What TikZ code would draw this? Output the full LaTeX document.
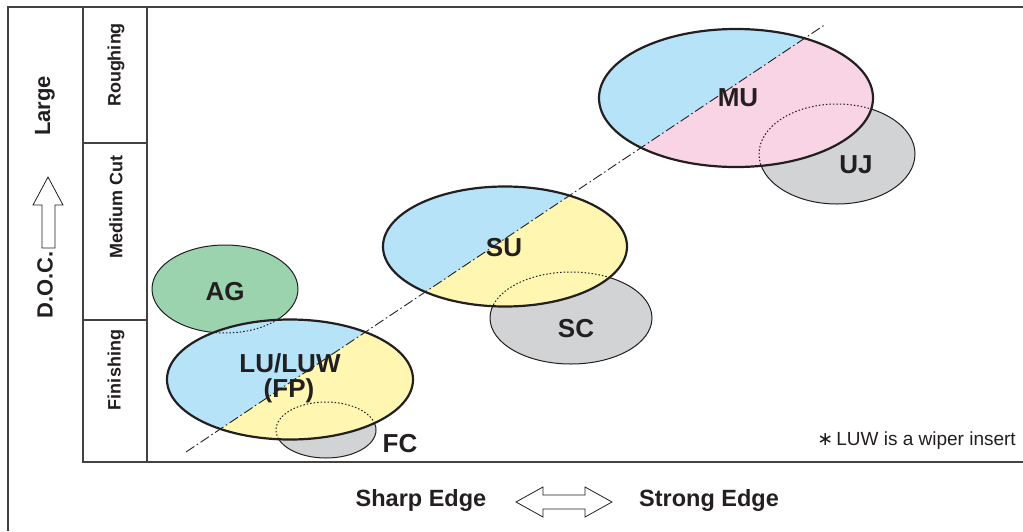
\documentclass[tikz,border=0pt]{standalone}
\usepackage{fontspec}
\setmainfont{Liberation Sans}
\newfontfamily\symfont{DejaVu Sans}
\definecolor{cblue}{HTML}{B6E3F7}
\definecolor{cyellow}{HTML}{FFF6B2}
\definecolor{cpink}{HTML}{F9D4E4}
\definecolor{cgray}{HTML}{D1D3D4}
\definecolor{cgreen}{HTML}{9AD3AD}
\definecolor{txt}{HTML}{231F20}
\begin{document}
\begin{tikzpicture}[x=1pt,y=-1pt,
  frame/.style={draw=txt!85, line width=1.2pt},
  mainel/.style={draw=txt, line width=2.2pt},
  subel/.style={draw=txt, line width=1pt},
  hidden/.style={draw=txt, line width=1pt, dash pattern=on 1.5pt off 2pt},
  axisline/.style={draw=txt, line width=0.9pt, dash pattern=on 10pt off 3pt on 1.5pt off 3pt},
  lbl/.style={font=\bfseries\fontsize{26}{28}\selectfont, text=txt, inner sep=0pt},
  sidelbl/.style={font=\bfseries\fontsize{18}{20}\selectfont, text=txt, inner sep=0pt, rotate=90},
  doclbl/.style={font=\bfseries\fontsize{22}{24}\selectfont, text=txt, inner sep=0pt, rotate=90},
  edgelbl/.style={font=\bfseries\fontsize{23.5}{25}\selectfont, text=txt, inner sep=0pt},
  notelbl/.style={font=\fontsize{19}{21}\selectfont, text=txt, inner sep=0pt},
  hollow/.style={draw=txt, line width=0.8pt, fill=white}
]
\useasboundingbox (0,0) rectangle (1023,531);

% split line end points
\coordinate (LA) at (0,576.4);
\coordinate (LB) at (1100,-159.2);
\coordinate (LC) at (0,-159.2);
\coordinate (A1) at (186,452);
\coordinate (A2) at (826,24);

% frame
\draw[frame] (8,531) -- (8,7) -- (1023,7);
\draw[frame] (83,7) -- (83,462) -- (1023,462);
\draw[frame] (147,7) -- (147,462);
\draw[frame] (83,143) -- (147,143);
\draw[frame] (83,320) -- (147,320);

% background (gray / green) ellipses
\filldraw[fill=cgray, subel] (837,154) ellipse [x radius=78, y radius=50];
\filldraw[fill=cgray, subel] (571,318) ellipse [x radius=81, y radius=46];
\filldraw[fill=cgray, subel] (326,430) ellipse [x radius=50, y radius=28];
\filldraw[fill=cgreen, subel] (225,289) ellipse [x radius=73, y radius=44];

% MU fill
\begin{scope}
  \clip (736,98) ellipse [x radius=137, y radius=69];
  \fill[cpink] (736,98) ellipse [x radius=137, y radius=69];
  \fill[cblue] (LA) -- (LB) -- (LC) -- cycle;
  \draw[hidden] (837,154) ellipse [x radius=78, y radius=50];
\end{scope}
% SU fill
\begin{scope}
  \clip (505,246.5) ellipse [x radius=122, y radius=60];
  \fill[cyellow] (505,246.5) ellipse [x radius=122, y radius=60];
  \fill[cblue] (LA) -- (LB) -- (LC) -- cycle;
  \draw[hidden] (571,318) ellipse [x radius=81, y radius=46];
\end{scope}
% LU fill
\begin{scope}
  \clip (290,379.5) ellipse [x radius=123, y radius=60];
  \fill[cyellow] (290,379.5) ellipse [x radius=123, y radius=60];
  \fill[cblue] (LA) -- (LB) -- (LC) -- cycle;
  \draw[hidden] (326,430) ellipse [x radius=50, y radius=28];
  \draw[hidden] (225,289) ellipse [x radius=73, y radius=44];
\end{scope}

% dash-dot diagonal
\draw[axisline] (A1) -- (A2);

% main outlines
\draw[mainel] (736,98) ellipse [x radius=137, y radius=69];
\draw[mainel] (505,246.5) ellipse [x radius=122, y radius=60];
\draw[mainel] (290,379.5) ellipse [x radius=123, y radius=60];

% labels
\node[lbl] (mu) at (738,98) {MU};
\node[lbl] (uj) at (856,164.5) {UJ};
\node[lbl] (su) at (504,248) {SU};
\node[lbl] (sc) at (576,329) {SC};
\node[lbl] (ag) at (225,292) {AG};
\node[lbl] (lu) at (290,363) {LU/LUW};
\node[lbl] (fp) at (289,391) {(FP)};
\node[lbl] (fc) at (400,443.5) {FC};

% side labels
\node[sidelbl] (rough) at (116,65) {Roughing};
\node[sidelbl] (med) at (116,207) {Medium Cut};
\node[sidelbl] (fin) at (116,370) {Finishing};
\node[doclbl] (doc) at (45,285) {D.O.C.};
\node[doclbl] (large) at (45,106) {Large};

% up arrow
\draw[hollow] (48,177) -- (63,205) -- (55,205) -- (55,248) -- (42,248) -- (42,205) -- (33,205) -- cycle;

% bottom
\node[edgelbl] (sharp) at (421,500) {Sharp Edge};
\node[edgelbl] (strong) at (709,500) {Strong Edge};
\draw[hollow] (516,502) -- (543,487) -- (543,495) -- (585,495) -- (585,487) -- (612,502)
  -- (585,517) -- (585,509) -- (543,509) -- (543,517) -- cycle;

% footnote
\node[notelbl, anchor=east] (note) at (1016,441) {{\symfont ∗}\kern3pt LUW is a wiper insert};
\end{tikzpicture}
\end{document}
